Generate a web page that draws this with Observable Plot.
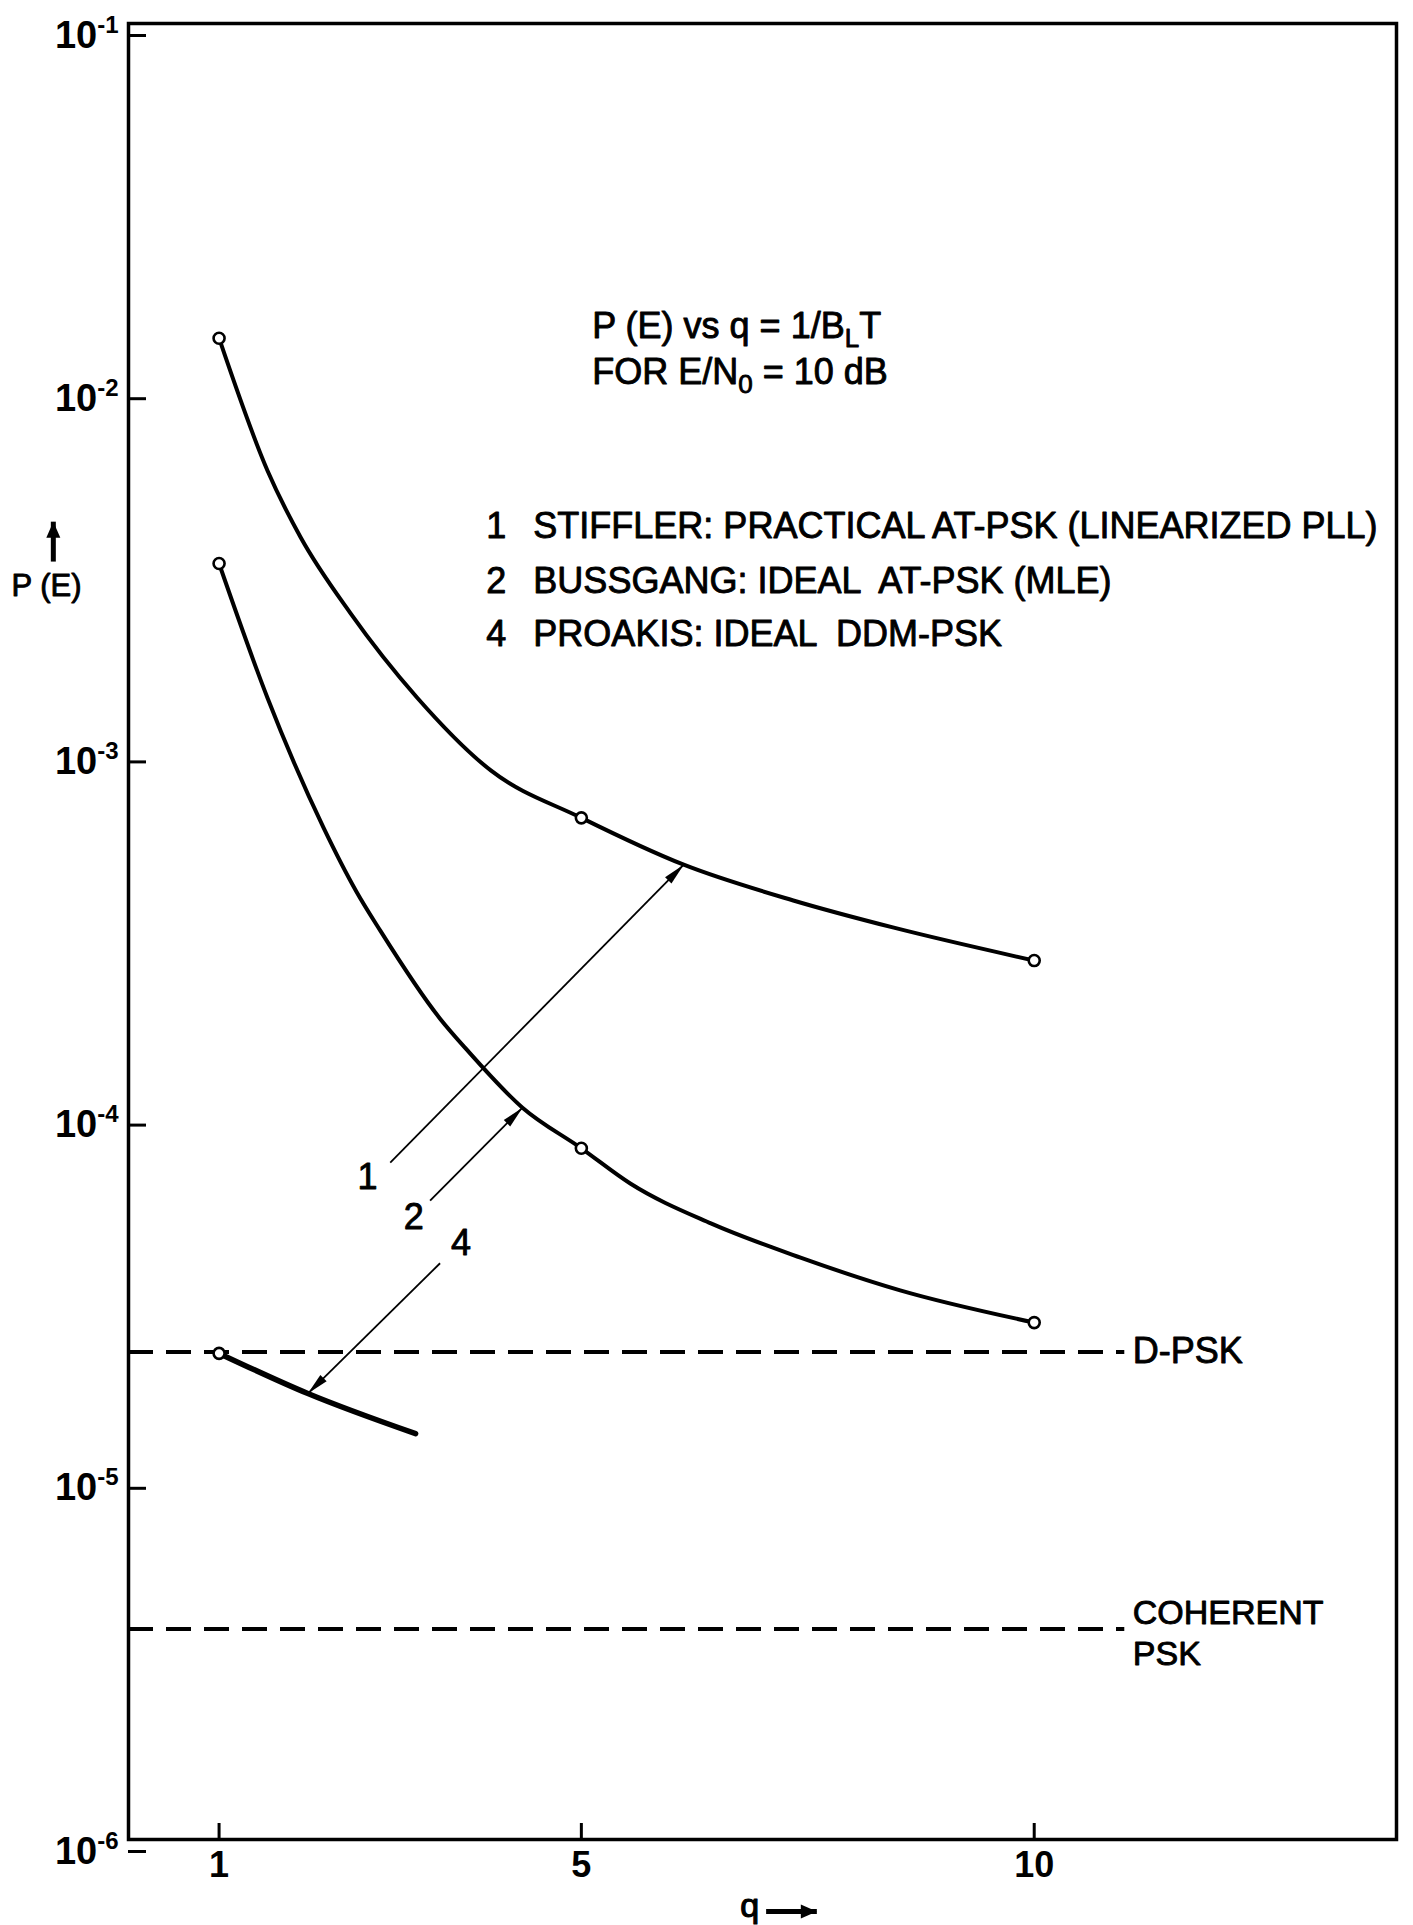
<!DOCTYPE html>
<html><head><meta charset="utf-8">
<script src="https://cdn.jsdelivr.net/npm/d3@7"></script>
<script src="https://cdn.jsdelivr.net/npm/@observablehq/plot@0.6"></script>
<style>
body{margin:0;background:#fff}
svg text{white-space:pre}
</style>
</head><body><div id="chart"></div>
<script>
// ---- data ----
const curve1Q = [1, 1.535, 1.90, 2.45, 3.19, 4.0, 5, 6.13, 7.34, 8.45, 10];
const curve1P = [1.36e-2, 5.87e-3, 3.85e-3, 2.38e-3, 1.39e-3, 8.78e-4, 6.5e-4, 4.83e-4, 3.85e-4, 3.24e-4, 2.63e-4];
const curve2Q = [1, 1.535, 2.153, 2.517, 2.78, 3.44, 3.74, 4.35, 5, 5.54, 6.43, 7.42, 8.52, 10];
const curve2P = [3.26e-3, 1.39e-3, 6.11e-4, 4.07e-4, 3.18e-4, 1.82e-4, 1.49e-4, 1.035e-4, 8.0e-5, 6.4e-5, 4.97e-5, 4.0e-5, 3.25e-5, 2.65e-5];
const curve4Q = [1, 1.98, 3.17];
const curve4P = [2.18e-5, 1.69e-5, 1.31e-5];
const markQ = [1, 5, 10];
const curve1MarkP = [1.36e-2, 6.5e-4, 2.63e-4];
const curve2MarkP = [3.26e-3, 8.0e-5, 2.65e-5];
const curve4MarkQ = [1];
const curve4MarkP = [2.18e-5];
const refNames = ["D-PSK", "COHERENT\nPSK"];
const refP = [2.2e-5, 3.8e-6];
const refEndQ = 11;
const xTicks = [1, 5, 10];
const yTicks = [1e-1, 1e-2, 1e-3, 1e-4, 1e-5, 1e-6];
const yTickLabels = ["10^-1", "10^-2", "10^-3", "10^-4", "10^-5", "10^-6"];
const legendNums = ["1", "2", "4"];
const legendTexts = ["STIFFLER: PRACTICAL AT-PSK (LINEARIZED PLL)", "BUSSGANG: IDEAL  AT-PSK (MLE)", "PROAKIS: IDEAL  DDM-PSK"];
const legendP = [3.82e-3, 2.71e-3, 1.93e-3];
const titleLines = ["P (E) vs q = 1/B_LT", "FOR E/N_0 = 10 dB"];
const titleP = [1.36e-2, 1.02e-2];
const leaderNames = ["1", "2", "4"];
const leaderFromQ = [2.89, 3.33, 3.44];
const leaderFromP = [7.31e-5, 5.74e-5, 3.86e-5];
const leaderToQ = [6.13, 4.35, 1.98];
const leaderToP = [4.83e-4, 1.035e-4, 1.69e-5];
const leaderLabelQ = [2.64, 3.15, 3.67];
const leaderLabelP = [6.65e-5, 5.16e-5, 4.38e-5];
const xLabel = "q";
const yLabel = "P (E)";

// ---- build tables ----
const rows = (qs, ps, name) => qs.map((q, i) => ({q, p: ps[i], name}));
const curves = [...rows(curve1Q, curve1P, "1"), ...rows(curve2Q, curve2P, "2")];
const curve4 = rows(curve4Q, curve4P, "4");
const marks = [...rows(markQ, curve1MarkP, "1"), ...rows(markQ, curve2MarkP, "2"), ...rows(curve4MarkQ, curve4MarkP, "4")];
const refs = refNames.map((n, i) => ({name: n, p: refP[i]}));
const legend = legendNums.map((n, i) => ({n, t: legendTexts[i], p: legendP[i]}));
const titles = titleLines.map((t, i) => ({t, p: titleP[i]}));
const leaders = leaderNames.map((n, i) => ({n, x1: leaderFromQ[i], y1: leaderFromP[i], x2: leaderToQ[i], y2: leaderToP[i], lx: leaderLabelQ[i], ly: leaderLabelP[i]}));

function filledHead(len, wid) {
  return (color) => {
    const m = d3.create("svg:marker")
      .attr("viewBox", `${-len} ${-wid / 2} ${len} ${wid}`)
      .attr("markerUnits", "userSpaceOnUse")
      .attr("markerWidth", len).attr("markerHeight", wid)
      .attr("refX", 0).attr("refY", 0)
      .attr("orient", "auto")
      .attr("overflow", "visible");
    m.append("path").attr("d", `M0,0L${-len},${-wid / 2}L${-len},${wid / 2}Z`).attr("fill", "black").attr("stroke", "none");
    return m.node();
  };
}

const font = "'Liberation Sans', Arial, sans-serif";
const ink = {fill: "black", stroke: "black", strokeWidth: 0.9};

function build(headSmall, headBig) {
  return Plot.plot({
    width: 1413, height: 1925,
    marginLeft: 128, marginRight: 17, marginTop: 23, marginBottom: 86,
    style: {fontFamily: font, background: "white", color: "black"},
    x: {domain: [0, 14]},
    y: {type: "log", domain: [1e-6, 1e-1]},
    marks: [
      Plot.frame({strokeWidth: 3.5}),
      Plot.axisY(yTicks, {anchor: "left", tickSize: -18, tickPadding: 28, strokeWidth: 3,
        tickFormat: d => yTickLabels[yTicks.indexOf(d)], fontSize: 38, fontWeight: "bold", dy: 12, label: null}),
      Plot.axisX(xTicks, {anchor: "bottom", tickSize: -16, tickPadding: 28, strokeWidth: 3,
        tickFormat: d => String(d), fontSize: 36, fontWeight: "bold", label: null}),
      Plot.ruleY(refs, {y: "p", x1: 0, x2: refEndQ, strokeWidth: 4, strokeDasharray: "25,13"}),
      Plot.text(refs.slice(0, 1), {y: "p", x: refEndQ, text: "name", dx: 8, textAnchor: "start",
        lineAnchor: "middle", fontSize: 36, ...ink}),
      Plot.text(refs.slice(1), {y: "p", x: refEndQ, text: "name", dx: 8, dy: -34, textAnchor: "start",
        lineAnchor: "top", fontSize: 34, lineHeight: 1.2, ...ink}),
      Plot.line(curves, {x: "q", y: "p", z: "name", curve: "monotone-x", strokeWidth: 4}),
      Plot.line(curve4, {x: "q", y: "p", curve: "monotone-x", strokeWidth: 5.5, strokeLinecap: "round"}),
      Plot.link(leaders, {x1: "x1", y1: "y1", x2: "x2", y2: "y2", strokeWidth: 1.8, markerEnd: headSmall}),
      Plot.text(leaders, {x: "lx", y: "ly", text: "n", fontSize: 36, ...ink}),
      Plot.dot(marks, {x: "q", y: "p", r: 5.5, stroke: "black", strokeWidth: 2.6, fill: "white"}),
      Plot.text(titles, {x: 5.12, y: "p", text: "t", textAnchor: "start", lineAnchor: "bottom", fontSize: 36, ...ink}),
      Plot.text(legend, {x: 4.06, y: "p", text: "n", lineAnchor: "bottom", fontSize: 36, ...ink}),
      Plot.text(legend, {x: 4.47, y: "p", text: "t", textAnchor: "start", lineAnchor: "bottom", fontSize: 36, ...ink}),
      Plot.text([yLabel], {x: -0.905, y: 2.66e-3, text: d => d, lineAnchor: "bottom", fontSize: 31, ...ink}),
      Plot.link([yLabel], {x1: -0.83, x2: -0.83, y1: 3.3e-3, y2: 4.25e-3, strokeWidth: 5, markerEnd: headBig}),
      Plot.text([xLabel], {x: 6.86, y: 6.1e-7, text: d => d, lineAnchor: "bottom", fontSize: 34, ...ink, strokeWidth: 1.2}),
      Plot.link([xLabel], {x1: 7.04, x2: 7.6, y1: 6.34e-7, y2: 6.34e-7, strokeWidth: 5, markerEnd: headBig})
    ]
  });
}

let chart;
try {
  chart = build(filledHead(22, 9), filledHead(16, 14));
} catch (e) {
  console.log("fallback markers: " + e.message);
  chart = build("arrow", "arrow");
}

const SVGNS = "http://www.w3.org/2000/svg";
// subscripts in the title lines (B_L, N_0) and superscripts in the y tick labels (10^-n)
chart.querySelectorAll("text").forEach(t => {
  const s = t.textContent;
  if (t.children.length) return;
  if (s.includes("_")) {
    t.textContent = "";
    s.split(/_(\w)/).forEach((p, i) => {
      if (!p) return;
      const ts = document.createElementNS(SVGNS, "tspan");
      ts.textContent = p;
      if (i % 2) { ts.setAttribute("font-size", "26"); ts.setAttribute("dy", "9"); }
      else if (i > 0) { ts.setAttribute("dy", "-9"); }
      t.appendChild(ts);
    });
  } else if (s.includes("^")) {
    const [base, exp] = s.split("^");
    t.textContent = "";
    const b = document.createElementNS(SVGNS, "tspan");
    b.textContent = base;
    const e = document.createElementNS(SVGNS, "tspan");
    e.textContent = exp;
    e.setAttribute("font-size", "24");
    e.setAttribute("dy", "-15");
    t.appendChild(b); t.appendChild(e);
  }
});

document.getElementById("chart").appendChild(chart);
</script>
</body></html>
